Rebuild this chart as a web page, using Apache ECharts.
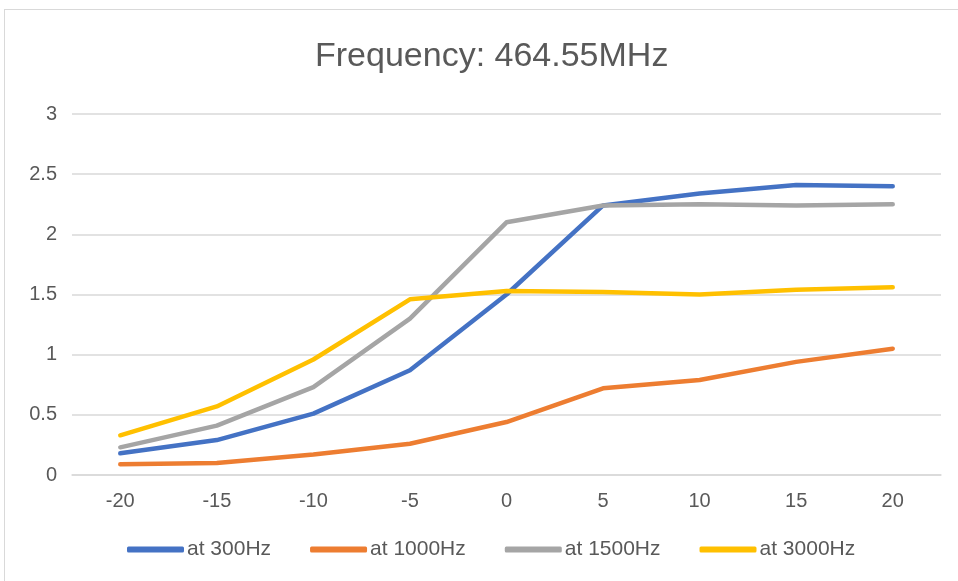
<!DOCTYPE html>
<html><head><meta charset="utf-8">
<script src="https://cdn.jsdelivr.net/npm/echarts@6/dist/echarts.min.js"></script>
<style>
html,body{margin:0;padding:0;background:#fff;}
#frame{position:absolute;left:4px;top:9px;width:960px;height:580px;border:1px solid #d9d9d9;box-sizing:border-box;}
#c{position:absolute;left:0;top:0;width:958px;height:581px;}
</style></head>
<body><div id="frame"></div><div id="c"></div>
<script>
const categories = ['-20','-15','-10','-5','0','5','10','15','20'];
const at300 = [0.18,0.29,0.51,0.87,1.50,2.24,2.34,2.41,2.40];
const at1000 = [0.09,0.10,0.17,0.26,0.44,0.72,0.79,0.94,1.05];
const at1500 = [0.23,0.41,0.73,1.30,2.10,2.24,2.25,2.24,2.25];
const at3000 = [0.33,0.57,0.96,1.46,1.53,1.52,1.50,1.54,1.56];
const names = ['at 300Hz','at 1000Hz','at 1500Hz','at 3000Hz'];
const colors = ['#4472C4','#ED7D31','#A5A5A5','#FFC000'];
const font = '"Liberation Sans",Arial,sans-serif';
const chart = echarts.init(document.getElementById('c'));
const mk = (n,d,c)=>({name:n,type:'line',data:d,symbol:'none',smooth:false,
  lineStyle:{width:4.5,color:c,cap:'round',join:'round'},itemStyle:{color:c}});
chart.setOption({
  animation:false,
  title:{text:'Frequency: 464.55MHz',left:310,top:35,
    textStyle:{fontFamily:font,fontSize:34,fontWeight:'normal',color:'#595959'}},
  legend:{bottom:16,left:122,itemWidth:57,itemHeight:6,itemGap:39,icon:'roundRect',
    textStyle:{fontFamily:font,fontSize:21,color:'#595959',padding:[0,0,0,-2]},
    data:names},
  grid:{left:72,right:17,top:114,bottom:106,containLabel:false},
  xAxis:{type:'category',data:categories,boundaryGap:true,
    axisLine:{lineStyle:{color:'#d9d9d9',width:1.5}},axisTick:{show:false},
    axisLabel:{fontFamily:font,fontSize:20,color:'#595959',margin:16}},
  yAxis:{type:'value',min:0,max:3,interval:0.5,
    axisLine:{show:false},axisTick:{show:false},
    splitLine:{lineStyle:{color:'#d9d9d9',width:1.5}},
    axisLabel:{fontFamily:font,fontSize:20,color:'#595959',margin:15}},
  series:[mk(names[0],at300,colors[0]),mk(names[1],at1000,colors[1]),mk(names[2],at1500,colors[2]),mk(names[3],at3000,colors[3])]
});
</script></body></html>
